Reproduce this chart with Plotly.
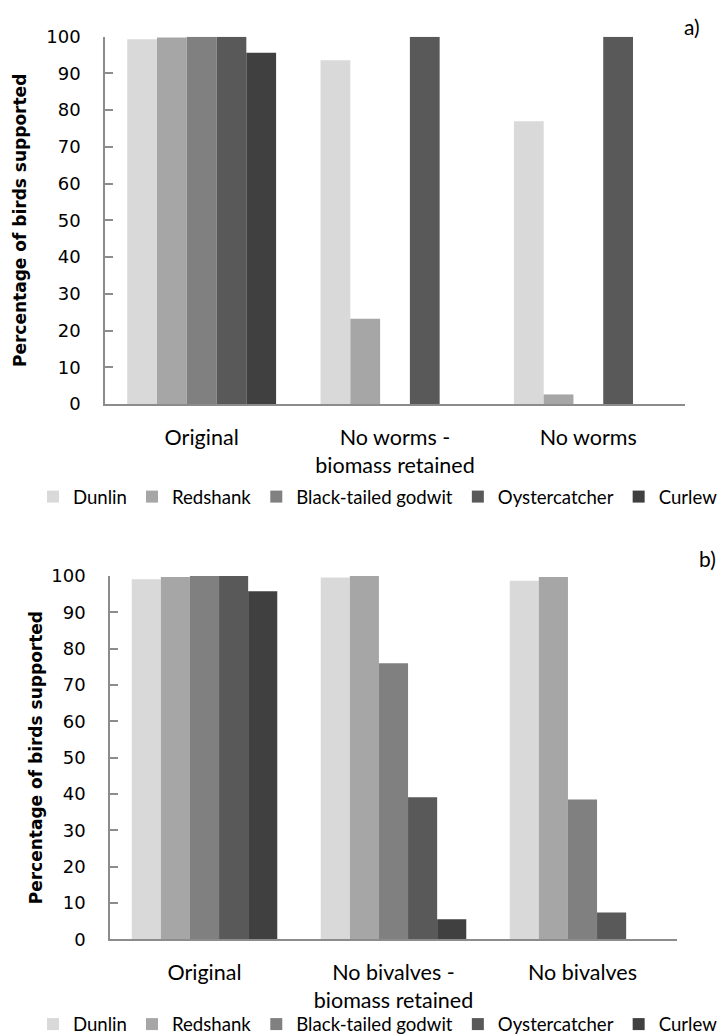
import plotly.graph_objects as go

# ---- data ----
species = ["Dunlin", "Redshank", "Black-tailed godwit", "Oystercatcher", "Curlew"]
colors = ["#d9d9d9", "#a6a6a6", "#808080", "#595959", "#404040"]

categories_a = ["Original", "No worms -<br>biomass retained", "No worms"]
dunlin_a = [99.3, 93.6, 77.0]
redshank_a = [99.8, 23.2, 2.6]
godwit_a = [100, 0, 0]
oyster_a = [100, 100, 100]
curlew_a = [95.6, 0, 0]

categories_b = ["Original", "No bivalves -<br>biomass retained", "No bivalves"]
dunlin_b = [99.1, 99.6, 98.7]
redshank_b = [99.7, 100, 99.7]
godwit_b = [100, 76.0, 38.5]
oyster_b = [100, 39.1, 7.4]
curlew_b = [95.8, 5.5, 0]

yticks = [0, 10, 20, 30, 40, 50, 60, 70, 80, 90, 100]
ytitle = "Percentage of birds supported"

series_a = [dunlin_a, redshank_a, godwit_a, oyster_a, curlew_a]
series_b = [dunlin_b, redshank_b, godwit_b, oyster_b, curlew_b]

fig = go.Figure()
for name, col, vals in zip(species, colors, series_a):
    fig.add_trace(go.Bar(x=categories_a, y=vals, name=name, marker_color=col,
                         marker_line_width=0, xaxis="x", yaxis="y", legend="legend"))
for name, col, vals in zip(species, colors, series_b):
    fig.add_trace(go.Bar(x=categories_b, y=vals, name=name, marker_color=col,
                         marker_line_width=0, xaxis="x2", yaxis="y2", legend="legend2"))

# page has an 8px body margin: figure is placed at (8, 8) in the 728x1034 window
OFF = 8
W, H = 728 - OFF, 1034 - OFF


def px(x):
    return (x - OFF) / W


def py(y):
    return 1 - (y - OFF) / H


axis_col = "#8c8c8c"
cat_font = dict(family="Lato", size=21.5, color="#000")
num_font = dict(family="DejaVu Sans", size=18, color="#000")
title_font = dict(family="DejaVu Sans", size=17, color="#000")
leg_font = dict(family="Lato", size=18.6, color="#000")


def xax(domain, anchor):
    return dict(domain=domain, anchor=anchor, showline=True, linecolor=axis_col, linewidth=1.5,
                ticks="", showgrid=False, zeroline=False, tickfont=cat_font,
                ticklabelstandoff=13, fixedrange=True)


def yax(domain, anchor, standoff):
    return dict(domain=domain, anchor=anchor, range=[0, 100], tickvals=yticks,
                ticks="inside", ticklen=8, tickwidth=1.5, tickcolor=axis_col,
                showline=True, linecolor=axis_col, linewidth=1.5, showgrid=False,
                zeroline=False, tickfont=num_font, ticklabelstandoff=19,
                title=dict(text="<b>" + ytitle + "</b>", font=title_font, standoff=standoff))


fig.update_layout(
    width=W, height=H,
    margin=dict(l=0, r=0, t=0, b=0, autoexpand=False),
    paper_bgcolor="white", plot_bgcolor="white",
    barmode="group", bargap=0.23, bargroupgap=0,
    xaxis=xax([px(105), px(685)], "y"),
    yaxis=yax([py(404), py(36.7)], "x", 15),
    xaxis2=xax([px(110), px(677)], "y2"),
    yaxis2=yax([py(939.3), py(576)], "x2", 4),
    legend=dict(orientation="h", x=px(33), xanchor="left", y=py(497), yanchor="middle",
                font=leg_font, bgcolor="rgba(0,0,0,0)", traceorder="normal"),
    legend2=dict(orientation="h", x=px(33), xanchor="left", y=py(1024.5), yanchor="middle",
                 font=leg_font, bgcolor="rgba(0,0,0,0)", traceorder="normal"),
    annotations=[
        dict(text="a)", x=px(692), y=py(27), xref="paper", yref="paper",
             xanchor="center", yanchor="middle",
             showarrow=False, font=dict(family="Lato", size=21, color="#000")),
        dict(text="b)", x=px(707), y=py(558), xref="paper", yref="paper",
             xanchor="center", yanchor="middle",
             showarrow=False, font=dict(family="Lato", size=21, color="#000")),
    ],
    showlegend=True,
)

fig.write_html("out.html")
